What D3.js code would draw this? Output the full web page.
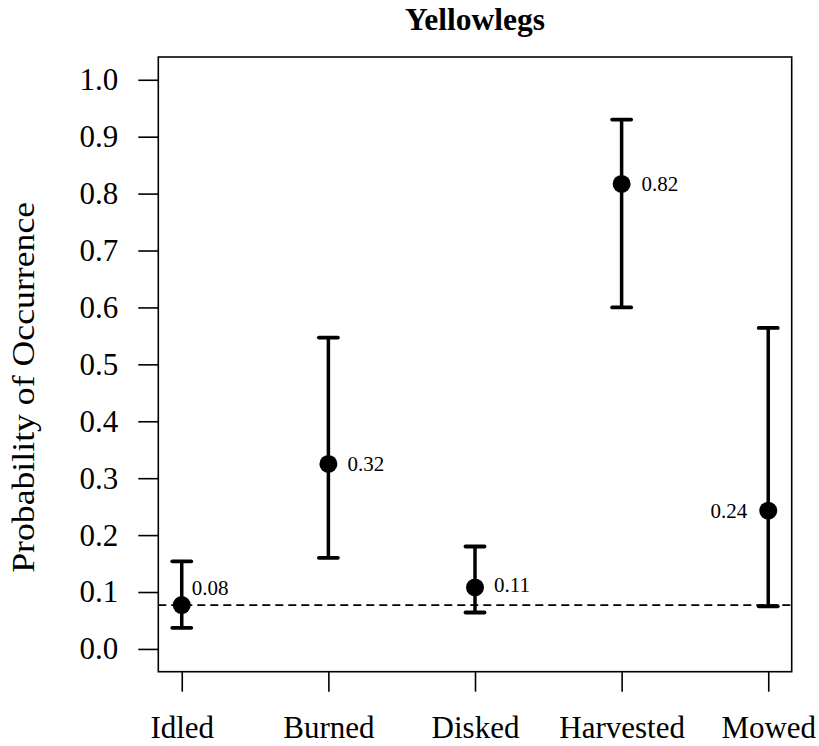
<!DOCTYPE html>
<html>
<head>
<meta charset="utf-8">
<script src="https://cdn.jsdelivr.net/npm/d3@7"></script>
<style>
  body { margin: 0; background: #fff; }
  text { font-family: "Liberation Serif", "Times New Roman", serif; fill: #000; }
</style>
</head>
<body>
<script>
// values
var categories = ["Idled", "Burned", "Disked", "Harvested", "Mowed"];
var estimates = [0.077, 0.325, 0.108, 0.817, 0.243];
var lowerCI = [0.037, 0.160, 0.064, 0.600, 0.075];
var upperCI = [0.154, 0.547, 0.180, 0.930, 0.564];
var valueLabels = ["0.08", "0.32", "0.11", "0.82", "0.24"];
var baseline = 0.077;
var yTicks = [0, 0.1, 0.2, 0.3, 0.4, 0.5, 0.6, 0.7, 0.8, 0.9, 1.0];

// where each value label sits next to its point
var labelPlace = [
  {dx: 10, dy: -17, anchor: "start"},
  {dx: 19, dy: 0, anchor: "start"},
  {dx: 19, dy: -3, anchor: "start"},
  {dx: 20, dy: 0, anchor: "start"},
  {dx: -21, dy: 0, anchor: "end"}
];

var W = 819, H = 746;
var box = {left: 158.3, right: 791.7, top: 57, bottom: 671.7};

var svg = d3.select("body").append("svg")
    .attr("width", W)
    .attr("height", H);

var x = d3.scalePoint()
    .domain(categories)
    .range([box.left, box.right])
    .padding(0.16);

var y = d3.scaleLinear()
    .domain([-0.04, 1.04])
    .range([box.bottom, box.top]);

// title
svg.append("text")
    .attr("x", (box.left + box.right) / 2)
    .attr("y", 29.5)
    .attr("text-anchor", "middle")
    .style("font-size", "31.5px")
    .style("font-weight", "bold")
    .text("Yellowlegs");

// y axis
var yAxis = svg.append("g")
    .attr("transform", "translate(" + box.left + ",0)")
    .call(d3.axisLeft(y).tickValues(yTicks).tickFormat(d3.format(".1f"))
      .tickSize(20).tickPadding(20));
yAxis.select(".domain").remove();
yAxis.selectAll("line").attr("stroke", "#000").attr("stroke-width", 1.6);
yAxis.selectAll("text")
    .style("font-size", "31px")
    .attr("font-family", null)
    .attr("dy", "0.32em");

// x axis
var xAxis = svg.append("g")
    .attr("transform", "translate(0," + box.bottom + ")")
    .call(d3.axisBottom(x).tickSize(20));
xAxis.select(".domain").remove();
xAxis.selectAll("line").attr("stroke", "#000").attr("stroke-width", 1.6);
xAxis.selectAll("text")
    .style("font-size", "31px")
    .attr("font-family", null)
    .attr("y", 66.5)
    .attr("dy", null);

// y axis title
svg.append("text")
    .attr("transform", "translate(34," + ((box.top + box.bottom) / 2 + 23) + ") rotate(-90)")
    .attr("text-anchor", "middle")
    .attr("textLength", 371)
    .attr("lengthAdjust", "spacingAndGlyphs")
    .style("font-size", "32px")
    .text("Probability of Occurrence");

// frame
svg.append("rect")
    .attr("x", box.left)
    .attr("y", box.top)
    .attr("width", box.right - box.left)
    .attr("height", box.bottom - box.top)
    .attr("fill", "none")
    .attr("stroke", "#000")
    .attr("stroke-width", 1.6);

// dashed reference line
svg.append("line")
    .attr("x1", box.left)
    .attr("x2", box.right)
    .attr("y1", y(baseline))
    .attr("y2", y(baseline))
    .attr("stroke", "#000")
    .attr("stroke-width", 1.6)
    .attr("stroke-dasharray", "8,5");

var rows = categories.map(function(c, i) {
  return {cat: c, est: estimates[i], lo: lowerCI[i], hi: upperCI[i], label: valueLabels[i], place: labelPlace[i]};
});

var g = svg.selectAll(".est")
  .data(rows)
  .enter().append("g")
    .attr("class", "est");

g.append("line")
    .attr("x1", function(d) { return x(d.cat); })
    .attr("x2", function(d) { return x(d.cat); })
    .attr("y1", function(d) { return y(d.lo); })
    .attr("y2", function(d) { return y(d.hi); })
    .attr("stroke", "#000")
    .attr("stroke-width", 3.5);

["lo", "hi"].forEach(function(k) {
  g.append("line")
      .attr("x1", function(d) { return x(d.cat) - 9.5; })
      .attr("x2", function(d) { return x(d.cat) + 9.5; })
      .attr("y1", function(d) { return y(d[k]); })
      .attr("y2", function(d) { return y(d[k]); })
      .attr("stroke", "#000")
      .attr("stroke-width", 3.8)
      .attr("stroke-linecap", "round");
});

g.append("circle")
    .attr("cx", function(d) { return x(d.cat); })
    .attr("cy", function(d) { return y(d.est); })
    .attr("r", 9)
    .attr("fill", "#000");

g.append("text")
    .attr("x", function(d) { return x(d.cat) + d.place.dx; })
    .attr("y", function(d) { return y(d.est) + d.place.dy; })
    .attr("dy", "0.34em")
    .attr("text-anchor", function(d) { return d.place.anchor; })
    .style("font-size", "21px")
    .text(function(d) { return d.label; });
</script>
</body>
</html>
